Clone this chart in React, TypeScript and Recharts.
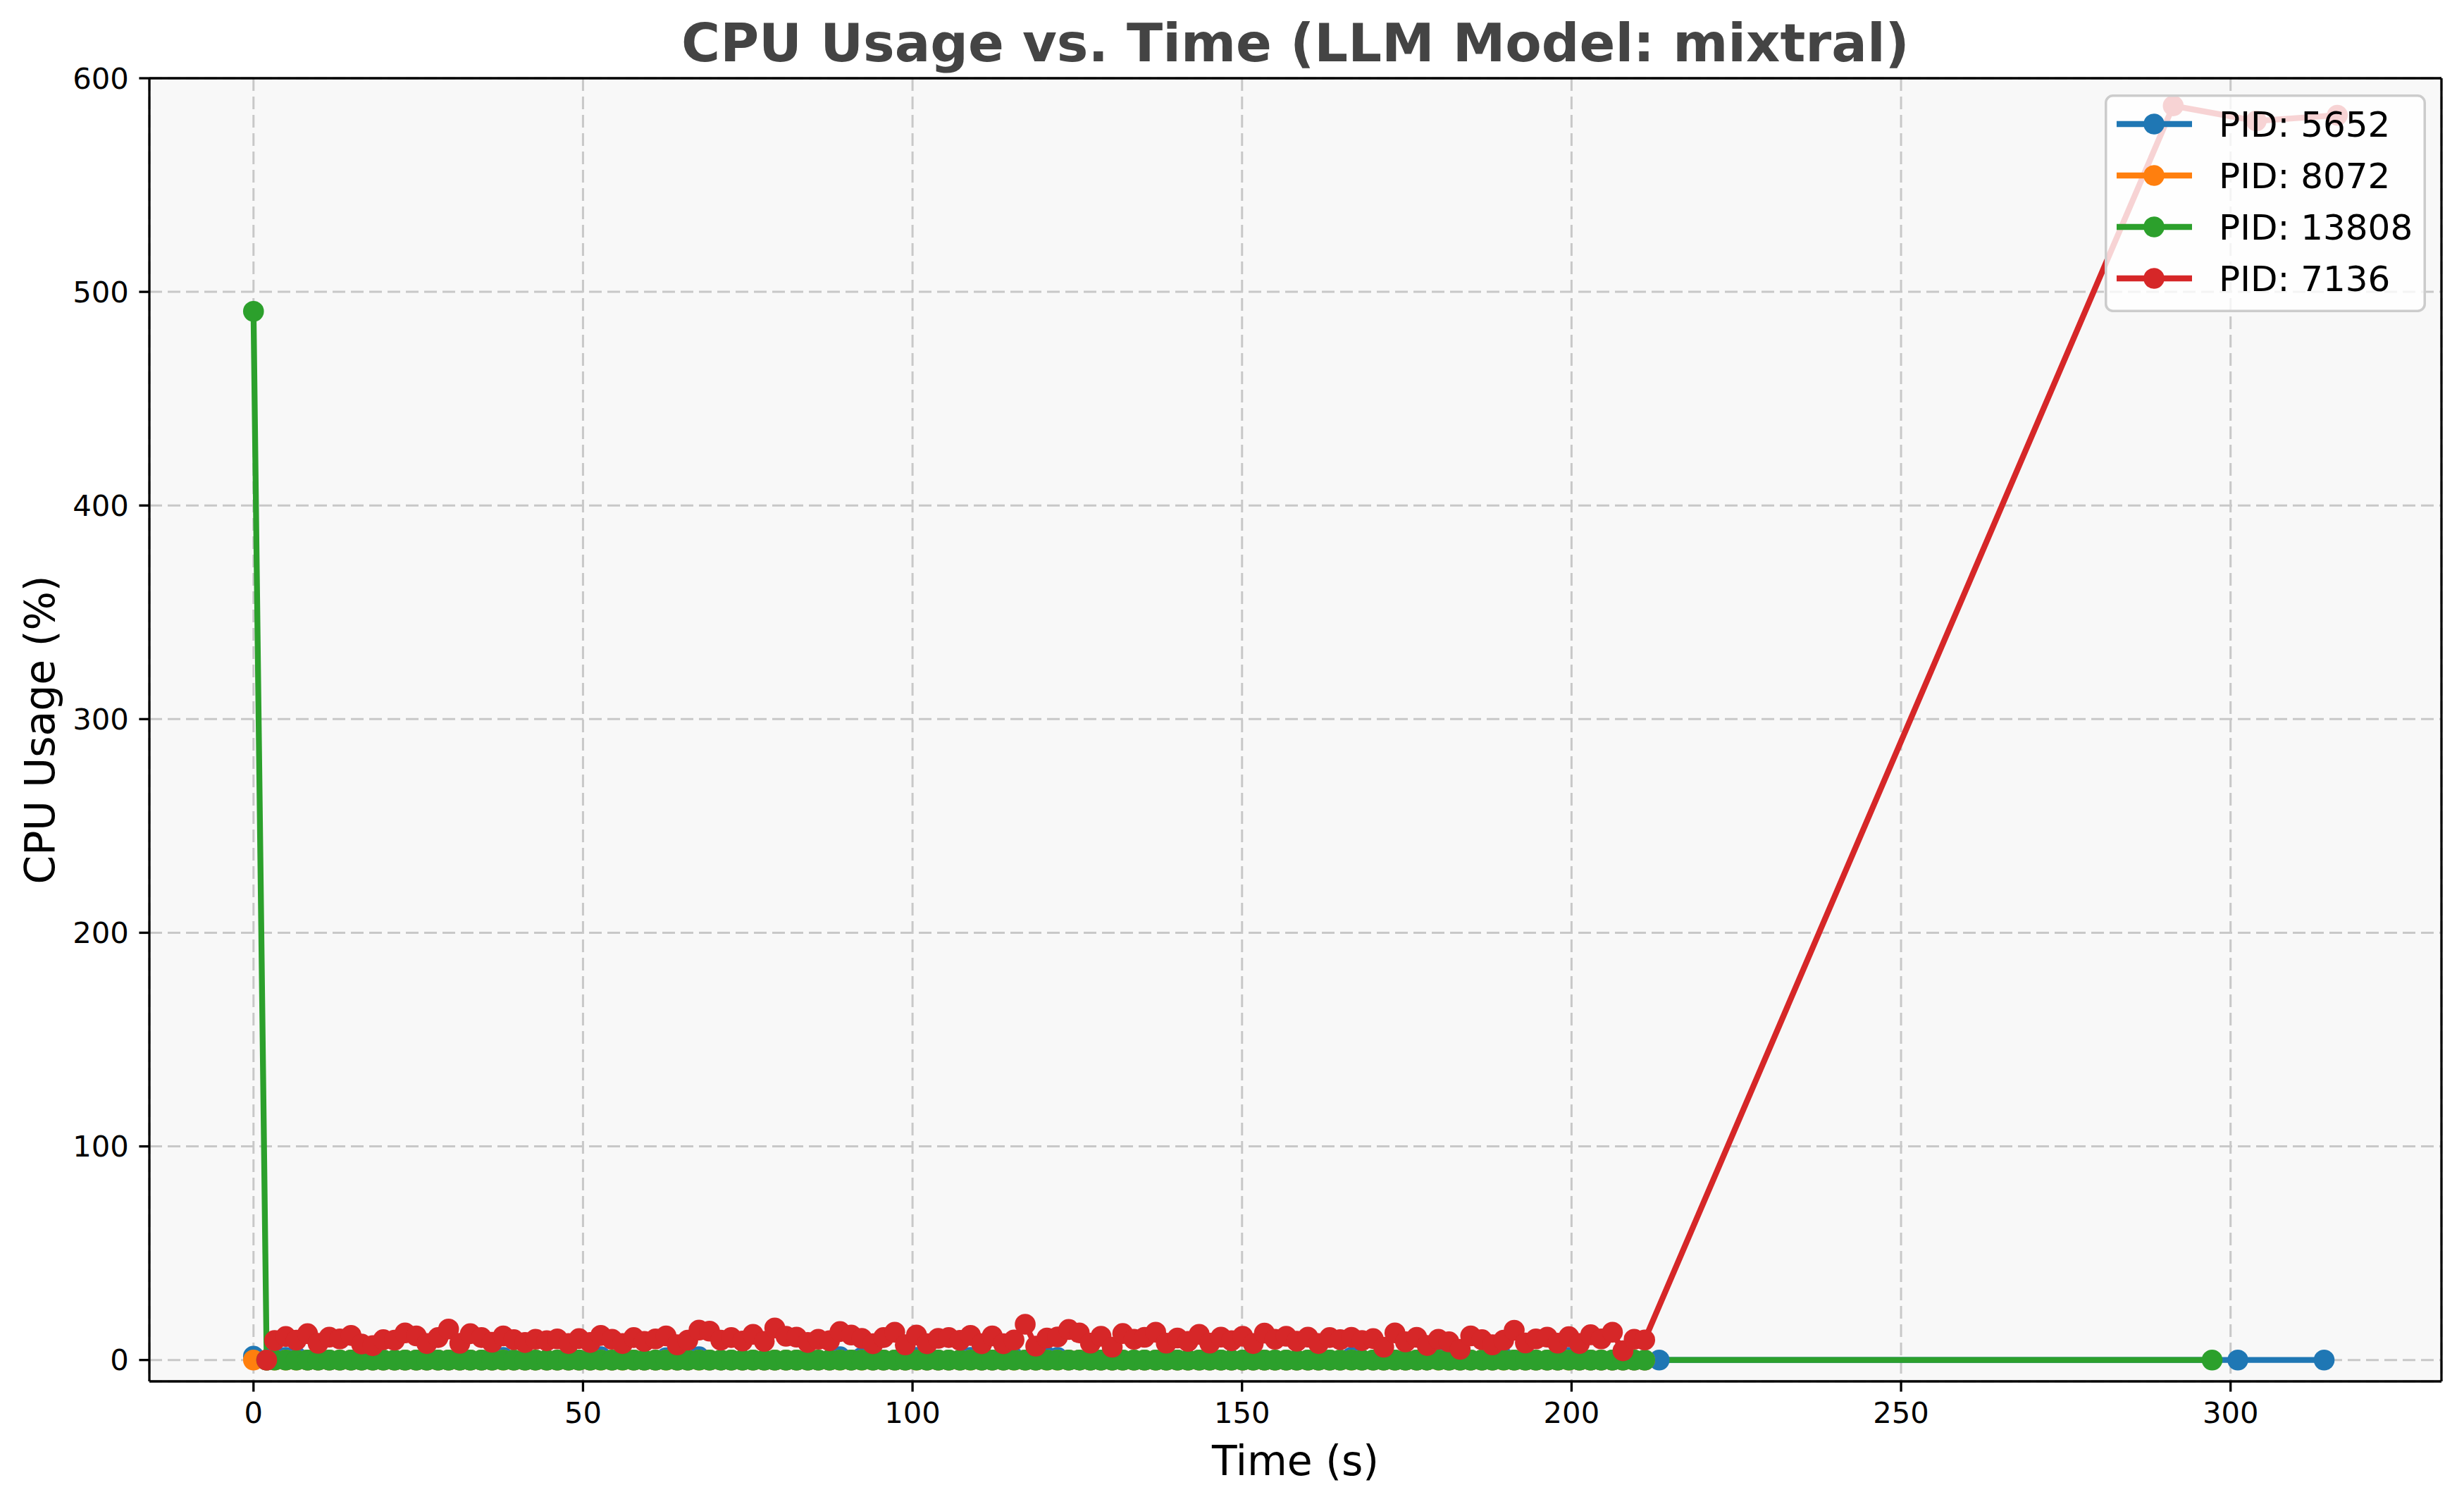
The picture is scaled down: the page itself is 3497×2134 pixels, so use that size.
import React from 'react';
import { LineChart, Line, XAxis, YAxis, CartesianGrid, ReferenceLine } from 'recharts';

const FONT = '"DejaVu Sans", Verdana, sans-serif';

// Shared sampling instants (s)
const sampleTimes = [
  2.0, 3.2, 4.9, 6.5, 8.2, 9.8, 11.5, 13.1, 14.8, 16.4,
  18.1, 19.7, 21.4, 23.0, 24.7, 26.3, 28.0, 29.6, 31.3, 32.9,
  34.6, 36.2, 37.9, 39.5, 41.2, 42.8, 44.5, 46.1, 47.8, 49.4,
  51.1, 52.7, 54.4, 56.0, 57.7, 59.3, 61.0, 62.6, 64.3, 65.9,
  67.6, 69.2, 70.9, 72.5, 74.2, 75.8, 77.5, 79.1, 80.8, 82.4,
  84.1, 85.7, 87.4, 89.0, 90.7, 92.3, 94.0, 95.6, 97.3, 98.9,
  100.6, 102.2, 103.9, 105.5, 107.2, 108.8, 110.5, 112.1, 113.8, 115.4,
  117.1, 118.7, 120.4, 122.0, 123.7, 125.3, 127.0, 128.6, 130.3, 131.9,
  133.6, 135.2, 136.9, 138.5, 140.2, 141.8, 143.5, 145.1, 146.8, 148.4,
  150.1, 151.7, 153.4, 155.0, 156.7, 158.3, 160.0, 161.6, 163.3, 164.9,
  166.6, 168.2, 169.9, 171.5, 173.2, 174.8, 176.5, 178.1, 179.8, 181.4,
  183.1, 184.7, 186.4, 188.0, 189.7, 191.3, 193.0, 194.6, 196.3, 197.9,
  199.6, 201.2, 202.9, 204.5, 206.2, 207.8, 209.5, 211.1,
];

// PID 5652 (blue)
const pid5652Cpu = [
  0, 1.5, 1.2, 1.5, 0, 0, 0, 0, 0, 0,
  0, 0, 0, 0, 0, 0, 0, 0, 0, 0,
  0, 0, 1.2, 0, 0, 0, 0, 0, 0, 0,
  0, 1.5, 0, 1.2, 0, 0, 0, 1.0, 0, 0,
  1.5, 0, 0, 0, 0, 0, 0, 0, 0, 0,
  0, 0, 0, 1.5, 0, 1.2, 0, 0, 0, 0,
  1.2, 0, 0, 0, 0, 1.2, 0, 0, 0, 1.0,
  0, 0, 1.5, 1.2, 0, 0, 0, 0, 0, 0,
  0, 0, 0, 0, 0, 0, 0, 0, 0, 0,
  0, 0, 0, 0, 0, 0, 0, 0, 0, 0,
  1.2, 0, 0, 0, 0, 0, 0, 0, 1.2, 0,
  0, 0, 0, 0, 1.0, 0, 0, 0, 0, 0,
  1.2, 0, 0, 0, 0, 0, 0, 0,
];
const pid5652HeadTimes = [0];
const pid5652HeadCpu = [1.8];
const pid5652TailTimes = [213.3, 301.1, 314.2];
const pid5652TailCpu = [0, 0, 0];

// PID 8072 (orange)
const pid8072Cpu = [
  0, 0, 0, 0, 0, 0, 0, 0, 0, 0,
  0, 0, 0, 0, 0, 0, 0, 0, 0, 0,
  0, 0, 0, 0, 0, 0, 0, 0, 0, 0,
  0, 0, 0, 0, 0, 0, 0, 0, 0, 0,
  0, 0, 0, 0, 0, 0, 0, 0, 0, 0,
  0, 0, 0, 0, 0, 0, 0, 0, 0, 0,
  0, 0, 0, 0, 0, 0, 0, 0, 0, 0,
  0, 0, 0, 0, 0, 0, 0, 0, 0, 0,
  0, 0, 0, 0, 0, 0, 0, 0, 0, 0,
  0, 0, 0, 0, 0, 0, 0, 0, 0, 0,
  0, 0, 0, 0, 0, 0, 0, 0, 0, 0,
  0, 0, 0, 0, 0, 0, 0, 0, 0, 0,
  0, 0, 0, 0, 0, 0, 0, 0,
];
const pid8072HeadTimes = [0];
const pid8072HeadCpu = [0];
const pid8072TailTimes: number[] = [];
const pid8072TailCpu: number[] = [];

// PID 13808 (green)
const pid13808Cpu = [
  0, 0, 0, 0, 0, 0, 0, 0, 0, 0,
  0, 0, 0, 0, 0, 0, 0, 0, 0, 0,
  0, 0, 0, 0, 0, 0, 0, 0, 0, 0,
  0, 0, 0, 0, 0, 0, 0, 0, 0, 0,
  0, 0, 0, 0, 0, 0, 0, 0, 0, 0,
  0, 0, 0, 0, 0, 0, 0, 0, 0, 0,
  0, 0, 0, 0, 0, 0, 0, 0, 0, 0,
  0, 0, 0, 0, 0, 0, 0, 0, 0, 0,
  0, 0, 0, 0, 0, 0, 0, 0, 0, 0,
  0, 0, 0, 0, 0, 0, 0, 0, 0, 0,
  0, 0, 0, 0, 0, 0, 0, 0, 0, 0,
  0, 0, 0, 0, 0, 0, 0, 0, 0, 0,
  0, 0, 0, 0, 0, 0, 0, 0,
];
const pid13808HeadTimes = [0];
const pid13808HeadCpu = [490.9];
const pid13808TailTimes = [297.2];
const pid13808TailCpu = [0];

// PID 7136 (red)
const pid7136Cpu = [
  0, 9.1, 11.0, 9.3, 12.3, 7.8, 10.7, 9.9, 11.5, 7.5,
  6.7, 9.5, 9.3, 12.7, 11.3, 7.7, 10.5, 14.5, 7.8, 12.3,
  10.5, 8.3, 11.3, 9.5, 8.2, 9.7, 9.0, 9.9, 7.7, 10.0,
  8.2, 11.5, 9.7, 7.7, 10.5, 8.7, 9.9, 11.3, 7.1, 9.3,
  14.0, 13.5, 9.3, 10.5, 8.9, 12.0, 8.7, 15.0, 11.1, 10.7,
  8.2, 9.7, 9.0, 13.3, 11.7, 10.1, 7.6, 10.5, 13.0, 7.1,
  11.7, 7.6, 10.1, 10.5, 9.2, 11.5, 7.6, 11.3, 7.6, 9.4,
  16.7, 6.5, 10.3, 10.8, 14.3, 12.7, 7.9, 11.1, 6.0, 12.4,
  9.7, 10.6, 13.0, 7.9, 10.3, 8.7, 12.0, 7.9, 10.7, 9.0,
  11.1, 7.7, 12.6, 9.7, 11.1, 8.8, 10.7, 7.7, 10.5, 9.5,
  10.6, 9.1, 10.0, 6.0, 12.7, 8.5, 10.6, 6.8, 9.7, 8.5,
  5.0, 11.3, 9.5, 7.1, 9.3, 13.9, 8.0, 9.9, 10.7, 7.9,
  10.9, 7.7, 11.8, 9.9, 13.0, 4.3, 9.7, 9.4,
];
const pid7136HeadTimes: number[] = [];
const pid7136HeadCpu: number[] = [];
const pid7136TailTimes = [291.3, 303.9, 316.2];
const pid7136TailCpu = [587.1, 580.0, 582.7];

const pidLabels = ['PID: 5652', 'PID: 8072', 'PID: 13808', 'PID: 7136'];
const pidColors = ['#1f77b4', '#ff7f0e', '#2ca02c', '#d62728'];

const xTicks = [0, 50, 100, 150, 200, 250, 300];
const yTicks = [0, 100, 200, 300, 400, 500, 600];
const xDomain = [-15.8, 332.0];
const yDomain = [-10, 600];

function build(headT: number[], headV: number[], vals: number[], tailT: number[], tailV: number[]) {
  const out: { t: number; cpu: number }[] = [];
  headT.forEach((t, i) => out.push({ t, cpu: headV[i] }));
  sampleTimes.forEach((t, i) => out.push({ t, cpu: vals[i] }));
  tailT.forEach((t, i) => out.push({ t, cpu: tailV[i] }));
  return out;
}

const seriesData = [
  build(pid5652HeadTimes, pid5652HeadCpu, pid5652Cpu, pid5652TailTimes, pid5652TailCpu),
  build(pid8072HeadTimes, pid8072HeadCpu, pid8072Cpu, pid8072TailTimes, pid8072TailCpu),
  build(pid13808HeadTimes, pid13808HeadCpu, pid13808Cpu, pid13808TailTimes, pid13808TailCpu),
  build(pid7136HeadTimes, pid7136HeadCpu, pid7136Cpu, pid7136TailTimes, pid7136TailCpu),
];

const W = 3497;
const H = 2134;
const PL = 212;
const PT = 111;
const PR = 3465;
const PB = 1960;
const YAXIS_W = 150;
const XAXIS_H = 100;
const MARKER_R = 14.8;

export default function App() {
  const tickStyle = { fontSize: 41.7, fill: '#000', fontFamily: FONT };
  return (
    <div style={{ position: 'absolute', left: 0, top: 0, width: W, height: H, background: '#fff' }}>
      <LineChart
        width={W}
        height={H}
        margin={{ top: PT, left: PL - YAXIS_W, right: W - PR, bottom: H - PB - XAXIS_H }}
      >
        <CartesianGrid
          xAxisId="x"
          yAxisId="y"
          fill="#f8f8f8"
          stroke="#c8c8c8"
          strokeWidth={3}
          strokeDasharray="18 8"
        />
        {seriesData.map((d, i) => (
          <Line
            key={pidLabels[i]}
            xAxisId="x"
            yAxisId="y"
            data={d}
            dataKey="cpu"
            name={pidLabels[i]}
            type="linear"
            stroke={pidColors[i]}
            strokeWidth={8.3}
            strokeLinejoin="round"
            dot={{ r: MARKER_R, fill: pidColors[i], stroke: 'none', strokeWidth: 0 }}
            activeDot={false}
            isAnimationActive={false}
          />
        ))}
        <ReferenceLine xAxisId="x" yAxisId="y" y={yDomain[1]} stroke="#000" strokeWidth={3.3} />
        <ReferenceLine xAxisId="x" yAxisId="y" x={xDomain[1]} stroke="#000" strokeWidth={3.3} />
        <XAxis
          xAxisId="x"
          type="number"
          dataKey="t"
          domain={xDomain}
          allowDataOverflow
          ticks={xTicks}
          interval={0}
          height={XAXIS_H}
          tickSize={14.6}
          tickMargin={14.6}
          tick={tickStyle}
          axisLine={{ stroke: '#000', strokeWidth: 3.3 }}
          tickLine={{ stroke: '#000', strokeWidth: 3.3 }}
        />
        <YAxis
          yAxisId="y"
          type="number"
          domain={yDomain}
          allowDataOverflow
          ticks={yTicks}
          interval={0}
          width={YAXIS_W}
          tickSize={14.6}
          tickMargin={14.6}
          tick={tickStyle}
          axisLine={{ stroke: '#000', strokeWidth: 3.3 }}
          tickLine={{ stroke: '#000', strokeWidth: 3.3 }}
        />
      </LineChart>

      <svg
        width={W}
        height={H}
        style={{ position: 'absolute', left: 0, top: 0, pointerEvents: 'none' }}
      >
        <text
          x={(PL + PR) / 2}
          y={87}
          textAnchor="middle"
          fontFamily={FONT}
          fontWeight="bold"
          fontSize={75}
          fill="#444444"
        >
          CPU Usage vs. Time (LLM Model: mixtral)
        </text>
        <text
          x={(PL + PR) / 2}
          y={2093}
          textAnchor="middle"
          fontFamily={FONT}
          fontSize={58.3}
          fill="#000"
        >
          Time (s)
        </text>
        <text
          x={77}
          y={(PT + PB) / 2}
          textAnchor="middle"
          fontFamily={FONT}
          fontSize={58.3}
          fill="#000"
          transform={`rotate(-90 77 ${(PT + PB) / 2})`}
        >
          CPU Usage (%)
        </text>
      </svg>

      <svg
        width={456}
        height={309}
        style={{ position: 'absolute', left: 2987, top: 134, pointerEvents: 'none' }}
      >
        <rect
          x={1.75}
          y={1.75}
          width={452.5}
          height={305.5}
          rx={10}
          ry={10}
          fill="#ffffff"
          fillOpacity={0.8}
          stroke="#cccccc"
          strokeWidth={3.5}
        />
        {pidLabels.map((lab, i) => {
          const cy = 42 + i * 73;
          return (
            <g key={lab}>
              <line x1={17} x2={124} y1={cy} y2={cy} stroke={pidColors[i]} strokeWidth={8.3} />
              <circle cx={70} cy={cy} r={MARKER_R} fill={pidColors[i]} />
              <text x={162} y={cy + 18.3} fontFamily={FONT} fontSize={50} fill="#000">
                {lab}
              </text>
            </g>
          );
        })}
      </svg>
    </div>
  );
}
